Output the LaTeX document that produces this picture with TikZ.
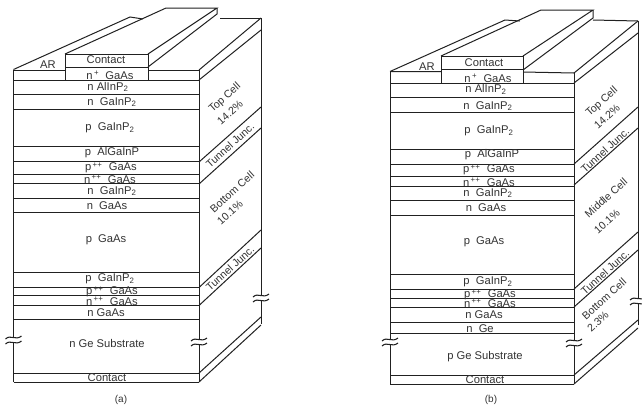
\documentclass[tikz,border=0pt]{standalone}
\usepackage{fontspec}
\setmainfont{Liberation Sans}
\definecolor{ink}{gray}{0.13}
\definecolor{txt}{gray}{0.2}
\tikzset{
  ln/.style={draw=ink,line width=0.75pt,line join=miter},
  lay/.style={font=\fontsize{8.4}{9}\selectfont,text=txt,inner sep=0pt,anchor=center},
  sidelab/.style={font=\fontsize{8}{9.6}\selectfont,text=txt,inner sep=0pt,rotate=42,align=center},
  figcap/.style={font=\fontsize{7.5}{8}\selectfont,text=txt,inner sep=0pt}
}
\newcommand{\pp}[1]{\textsuperscript{\,#1}}
\newcommand{\dd}{\textsubscript{2}}
% break mark: white gap with two wavy strokes
\newcommand{\brk}[2]{%
  \fill[white] (#1-7,#2-3) rectangle (#1+7,#2+3);
  \draw[ln,line width=0.8pt] (#1-8,#2-1) .. controls (#1-3,#2-6) and (#1+2,#2+1) .. (#1+8,#2-4);
  \draw[ln,line width=0.8pt] (#1-8,#2+4) .. controls (#1-3,#2-1) and (#1+2,#2+6) .. (#1+8,#2+1);
}
\begin{document}
\begin{tikzpicture}[x=0.75pt,y=-0.75pt]
\useasboundingbox (0,0) rectangle (642,408);
\fill[white] (0,0) rectangle (642,408);
% ---------- panel (a) ----------
\foreach \y in {80,94.5,109,146.5,161.5,174,183.5,198,212.5,272,287.5,295.5,305.5,319,373,382}
  \draw[ln] (13.5,\y) -- (199,\y);
\draw[ln] (13.5,70) -- (65,70) (148,70) -- (199,70);
\draw[ln] (13.5,69.5) -- (13.5,382) (199,70) -- (199,382);
\draw[ln] (261,18) -- (261,324);
\draw[ln] (199,70) -- (261,18) (199,80) -- (261,30);
\draw[ln] (199,162) -- (261,107) (199,184) -- (261,128);
\draw[ln] (199,287.5) -- (261,230) (199,305.5) -- (261,248);
\draw[ln] (199,373) -- (261,317) (199,382) -- (261,325);
\draw[ln] (220,18) -- (261,18);
\draw[ln] (13.5,69.5) -- (130,17) -- (143,19);
\draw[ln,fill=white] (65,80) -- (65,54) -- (148,54) -- (148,80);
\draw[ln] (65,67.5) -- (148,67.5);
\draw[ln] (65,54) -- (166,8) -- (217,8) -- (148,54);
\draw[ln] (217,8) -- (217,14) -- (148,67);
\brk{13.5}{340}
\brk{199}{342}
\brk{261}{298}
% ---------- panel (b) ----------
\foreach \y in {83,97,112,149.5,164,176.5,186,200,215,274.7,289,298.7,307.3,322,333,375,384}
  \draw[ln] (390,\y) -- (574,\y);
\draw[ln] (390,71.5) -- (441,71.5) (523,72) -- (574,73);
\draw[ln] (390,71.5) -- (390,384) (574,73) -- (574,384);
\draw[ln] (638,21) -- (638,325);
\draw[ln] (574,73) -- (638,21) (574,83) -- (638,33);
\draw[ln] (574,164) -- (638,107) (574,185) -- (638,128);
\draw[ln] (574,289) -- (638,232) (574,307) -- (638,250);
\draw[ln] (574,375) -- (638,320) (574,384) -- (638,328);
\draw[ln] (593,20) -- (638,21);
\draw[ln] (390,71.5) -- (505,20) -- (520,21);
\draw[ln,fill=white] (441,83) -- (441,56) -- (523,56) -- (523,83);
\draw[ln] (441,69.5) -- (523,69.5);
\draw[ln] (441,56) -- (541,10) -- (593,10) -- (523,56);
\draw[ln] (593,10) -- (593,18) -- (523,70);
\brk{390}{342}
\brk{574}{343}
\brk{638}{301}
% ---------- labels (a) ----------
\node[lay] (aar) at (48,65) {AR};
\node[lay] (a1) at (106,60) {Contact};
\node[lay] (a2) at (110,75) {n\pp{+}\ \ GaAs};
\node[lay] (a3) at (108,87) {n AlInP\dd};
\node[lay] (a4) at (112,102) {n\ \ GaInP\dd};
\node[lay] (a5) at (110,128) {p\ \ GaInP\dd};
\node[lay] (a6) at (112,153) {p\ \ AlGaInP};
\node[lay] (a7) at (111,168) {p\pp{++}\ \ GaAs};
\node[lay] (a8) at (110,179) {n\pp{++}\ \ GaAs};
\node[lay] (a9) at (112,191) {n\ \ GaInP\dd};
\node[lay] (a10) at (107,206) {n\ \ GaAs};
\node[lay] (a11) at (106,240) {p\ \ GaAs};
\node[lay] (a12) at (110,279) {p\ \ GaInP\dd};
\node[lay] (a13) at (112,292) {p\pp{++}\ \ GaAs};
\node[lay] (a14) at (112,301) {n\pp{++}\ \ GaAs};
\node[lay] (a15) at (106,313) {n GaAs};
\node[lay] (a16) at (107,343) {n Ge Substrate};
\node[lay] (a17) at (107,378) {Contact};
\node[sidelab] (as1) at (225,98) {Top Cell};
\node[sidelab] (as1b) at (230,113) {14.2\%};
\node[sidelab] (as2) at (230,145) {Tunnel Junc.};
\node[sidelab] (as3) at (232,192) {Bottom Cell};
\node[sidelab] (as3b) at (230,213) {10.1\%};
\node[sidelab] (as4) at (230,268) {Tunnel Junc.};
\node[figcap] (acap) at (121,400) {(a)};
% ---------- labels (b) ----------
\node[lay] (bar) at (427,67) {AR};
\node[lay] (b1) at (484,63) {Contact};
\node[lay] (b2) at (488,78) {n\pp{+}\ \ GaAs};
\node[lay] (b3) at (486,89.5) {n AlInP\dd};
\node[lay] (b4) at (488,106) {n\ \ GaInP\dd};
\node[lay] (b5) at (489,131) {p\ \ GaInP\dd};
\node[lay] (b6) at (492,155) {p\ \ AlGaInP};
\node[lay] (b7) at (489,170) {p\pp{++}\ \ GaAs};
\node[lay] (b8) at (489,182) {n\pp{++}\ \ GaAs};
\node[lay] (b9) at (488,193) {n\ \ GaInP\dd};
\node[lay] (b10) at (486,208) {n\ \ GaAs};
\node[lay] (b11) at (484,242) {p\ \ GaAs};
\node[lay] (b12) at (488,282) {p\ \ GaInP\dd};
\node[lay] (b13) at (490,295) {p\pp{++}\ \ GaAs};
\node[lay] (b14) at (490,303) {n\pp{++}\ \ GaAs};
\node[lay] (b15) at (484,315) {n GaAs};
\node[lay] (b16) at (480,329) {n\ \ Ge};
\node[lay] (b17) at (485,357) {p Ge Substrate};
\node[lay] (b18) at (485,380) {Contact};
\node[sidelab] (bs1) at (602,102) {Top Cell};
\node[sidelab] (bs1b) at (607,117) {14.2\%};
\node[sidelab] (bs2) at (605,150) {Tunnel Junc.};
\node[sidelab] (bs3) at (606,198) {Middle Cell};
\node[sidelab] (bs3b) at (607,222) {10.1\%};
\node[sidelab] (bs4) at (605,272) {Tunnel Junc.};
\node[sidelab] (bs5) at (604,299) {Bottom Cell};
\node[sidelab] (bs5b) at (598,322) {2.3\%};
\node[figcap] (bcap) at (491,400) {(b)};
\end{tikzpicture}
\end{document}
